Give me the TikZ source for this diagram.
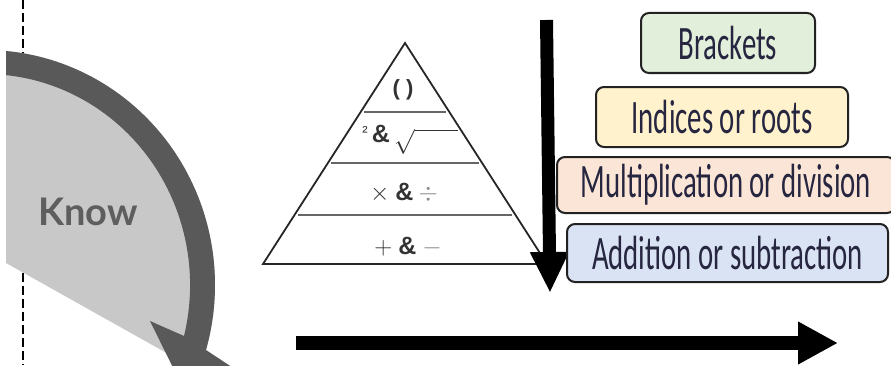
\documentclass[tikz,border=0pt]{standalone}
\usepackage{fontspec}
\setmainfont{Liberation Sans}
\newfontfamily\handfont[FakeStretch=0.6]{Carlito}
\newfontfamily\knowfont{Lato}
\usetikzlibrary{arrows.meta}
\definecolor{knowgray}{HTML}{C8C8C8}
\definecolor{knowdark}{HTML}{595959}
\definecolor{knowtextc}{HTML}{5E5E5E}
\definecolor{fillgreen}{HTML}{E2EFDA}
\definecolor{fillyellow}{HTML}{FFF2CC}
\definecolor{fillpeach}{HTML}{FBE5D6}
\definecolor{fillblue}{HTML}{DAE3F3}
\definecolor{boxline}{HTML}{222222}
\definecolor{handc}{HTML}{262640}
\definecolor{symdark}{HTML}{333333}
\definecolor{symlight}{HTML}{8A8A8A}
\tikzset{
  dashline/.style={line width=1.3pt, dash pattern=on 9pt off 4pt, black},
  pyr/.style={line width=1.8pt, black!85, line join=miter},
  divline/.style={line width=1.4pt, black!60},
  symtext/.style={font=\fontsize{25}{28}\selectfont, text=symdark, inner sep=0pt},
  knowtext/.style={font=\knowfont\bfseries\fontsize{38}{44}\selectfont, text=knowtextc, inner sep=0pt},
  opbox/.style={draw=boxline, line width=2pt, rounded corners=8pt, text=handc,
    font=\handfont\fontsize{48}{52}\selectfont, inner sep=0pt, align=center},
  bigarrow/.style={black}
}
\begin{document}
\begin{tikzpicture}[x=1pt,y=1pt]
\useasboundingbox (0,0) rectangle (891,365);
\clip (0,0) rectangle (891,365);
% dashed vertical line
\coordinate (dT) at (23,365);
\coordinate (dB) at (23,0);
\draw[dashline] (dT) -- (dB);
% Know cycle segment
\fill[knowgray] (6,102) -- (6,314) arc[start angle=84.76, end angle=-16.06, x radius=230, y radius=235] -- (188,0) -- cycle;
\fill[knowdark] (6,314) arc[start angle=84.76, end angle=-16.06, x radius=230, y radius=235]
  -- (250,-14) -- (189,-35) -- (150,44) -- (184,29)
  arc[start angle=-13.99, end angle=84.12, x radius=205, y radius=211] -- cycle;
\node[knowtext, anchor=base] (know) at (88,140) {Know};
% pyramid
\coordinate (apex) at (405,322);
\coordinate (bl) at (263,101);
\coordinate (br) at (547,101);
\draw[divline] (364,253) -- (446,253);
\draw[divline] (331,202) -- (479,202);
\draw[divline] (298,150) -- (512,150);
\draw[pyr] (apex) -- (bl) -- (br) -- cycle;
\node[symtext, font=\fontsize{22}{26}\selectfont] (r1) at (403,275) {\textbf{( )}};
\node[symtext] (r2) at (410,225) {\raisebox{5pt}{\fontsize{16}{18}\selectfont ²}\,\textbf{\&}\,$\sqrt{\hphantom{mm}}$};
\node[symtext] (r3) at (404,172) {$\times$\hspace{6pt}\textbf{\&}\hspace{5pt}{\color{symlight}$\div$}};
\node[symtext] (r4) at (408,118) {$+$\hspace{6pt}\textbf{\&}\hspace{6pt}{\color{symlight}$-$}};
% arrows
\coordinate (vS) at (546.5,345);
\coordinate (vE) at (550,72);
\draw[bigarrow, line width=13pt, -{Triangle[length=41pt,width=36pt]}] (vS) -- (vE);
\coordinate (hS) at (296,22);
\coordinate (hE) at (838,22);
\draw[bigarrow, line width=14pt, -{Triangle[length=40pt,width=40pt]}] (hS) -- (hE);
% boxes
\node[opbox, fill=fillgreen, minimum width=174pt, minimum height=60pt] (brk) at (728,322) {Brackets};
\node[opbox, fill=fillyellow, minimum width=252pt, minimum height=60pt] (ind) at (722,248) {Indices or roots};
\node[opbox, fill=fillpeach, minimum width=338pt, minimum height=56pt] (mul) at (726,180) {Multiplication or division};
\node[opbox, fill=fillblue, minimum width=321pt, minimum height=58pt] (add) at (727.5,112) {Addition or subtraction};
\end{tikzpicture}
\end{document}
